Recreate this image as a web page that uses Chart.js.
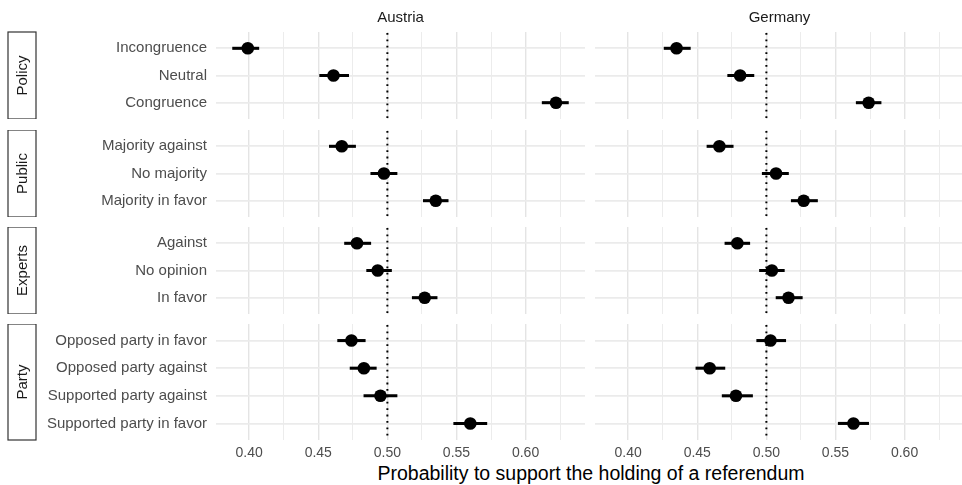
<!DOCTYPE html>
<html>
<head>
<meta charset="utf-8">
<script src="https://cdn.jsdelivr.net/npm/chart.js@4.4.1/dist/chart.umd.min.js"></script>
<style>
  html, body { margin: 0; padding: 0; background: #fff; overflow: hidden; }
  #wrap { position: relative; width: 962px; height: 485px; overflow: hidden; }
  #wrap canvas { position: absolute; }
  #xtitle {
    position: absolute; left: 341px; width: 500px; top: 462px;
    text-align: center; white-space: nowrap;
    font: 19.5px "Liberation Sans", Arial, sans-serif; color: #000;
  }
</style>
</head>
<body>
<div id="wrap">
  <div id="xtitle">Probability to support the holding of a referendum</div>
</div>
<script>
const countries = ["Austria", "Germany"];
const groups = ["Policy", "Public", "Experts", "Party"];
const policyLevels = ["Incongruence", "Neutral", "Congruence"];
const publicLevels = ["Majority against", "No majority", "Majority in favor"];
const expertsLevels = ["Against", "No opinion", "In favor"];
const partyLevels = ["Opposed party in favor", "Opposed party against", "Supported party against", "Supported party in favor"];
const groupLevels = [policyLevels, publicLevels, expertsLevels, partyLevels];

// estimates and 95% bounds, in the order of the levels above
const austriaEst  = [0.399, 0.461, 0.622, 0.467, 0.4975, 0.535, 0.478, 0.493, 0.527, 0.474, 0.483, 0.495, 0.560];
const austriaLow  = [0.388, 0.451, 0.612, 0.458, 0.488, 0.526, 0.469, 0.485, 0.518, 0.464, 0.473, 0.483, 0.548];
const austriaHigh = [0.407, 0.472, 0.631, 0.477, 0.507, 0.544, 0.488, 0.503, 0.536, 0.484, 0.492, 0.507, 0.572];

const germanyEst  = [0.435, 0.481, 0.574, 0.466, 0.507, 0.527, 0.479, 0.504, 0.516, 0.503, 0.459, 0.478, 0.563];
const germanyLow  = [0.426, 0.472, 0.565, 0.457, 0.497, 0.518, 0.470, 0.495, 0.507, 0.493, 0.449, 0.468, 0.552];
const germanyHigh = [0.445, 0.491, 0.583, 0.476, 0.516, 0.537, 0.488, 0.513, 0.526, 0.514, 0.470, 0.490, 0.574];

const xMajorTicks = [0.40, 0.45, 0.50, 0.55, 0.60];
const xMinorTicks = [0.425, 0.475, 0.525, 0.575, 0.625];
const xLimits = [0.376, 0.643];
const refValue = 0.5;

const estimates = [austriaEst, germanyEst];
const lows = [austriaLow, germanyLow];
const highs = [austriaHigh, germanyHigh];

// panel layout (px)
const panelLeft = [216, 595];
const panelW = 369;
const panelTop = [32, 130, 227, 324];
const panelH = [87, 87, 87, 116];

const FONT = "'Liberation Sans', Arial, sans-serif";

// dotted reference line, strip boxes and column titles
const facetPlugin = {
  id: "facet",
  beforeDatasetsDraw(chart) {
    const { ctx, chartArea } = chart;
    const x = chart.scales.x.getPixelForValue(refValue);
    ctx.save();
    ctx.strokeStyle = "#000";
    ctx.lineWidth = 2;
    ctx.setLineDash([1.8, 4.6]);
    ctx.beginPath();
    ctx.moveTo(x, chartArea.top + 1);
    ctx.lineTo(x, chartArea.bottom);
    ctx.stroke();
    ctx.restore();
  },
  afterDraw(chart, args, opts) {
    const { ctx, chartArea } = chart;
    ctx.save();
    if (opts.strip) {
      ctx.strokeStyle = "#333";
      ctx.lineWidth = 1.2;
      ctx.fillStyle = "#fff";
      ctx.fillRect(8, chartArea.top, 28, chartArea.bottom - chartArea.top);
      ctx.strokeRect(8, chartArea.top, 28, chartArea.bottom - chartArea.top);
      ctx.translate(22, (chartArea.top + chartArea.bottom) / 2);
      ctx.rotate(-Math.PI / 2);
      ctx.fillStyle = "#1a1a1a";
      ctx.font = "15px " + FONT;
      ctx.textAlign = "center";
      ctx.textBaseline = "middle";
      ctx.fillText(opts.strip, 0, 1);
      ctx.setTransform(1, 0, 0, 1, 0, 0);
    }
    if (opts.title) {
      ctx.fillStyle = "#1a1a1a";
      ctx.font = "15px " + FONT;
      ctx.textAlign = "center";
      ctx.textBaseline = "middle";
      ctx.fillText(opts.title, (chartArea.left + chartArea.right) / 2, 18);
    }
    ctx.restore();
  }
};

function makePanel(col, row) {
  const levels = groupLevels[row];
  const first = groupLevels.slice(0, row).reduce((s, g) => s + g.length, 0);
  const est = estimates[col].slice(first, first + levels.length);
  const low = lows[col].slice(first, first + levels.length);
  const high = highs[col].slice(first, first + levels.length);

  const isLeft = col === 0, isTop = row === 0, isBottom = row === groups.length - 1;
  const padTop = isTop ? 32 : 0;
  const axisH = isBottom ? 26 : 0;
  const axisW = isLeft ? panelLeft[0] : 0;

  const canvas = document.createElement("canvas");
  canvas.width = axisW + panelW;
  canvas.height = padTop + panelH[row] + axisH;
  canvas.style.left = (isLeft ? 0 : panelLeft[1]) + "px";
  canvas.style.top = (panelTop[row] - padTop) + "px";
  document.getElementById("wrap").appendChild(canvas);

  new Chart(canvas, {
    type: "scatter",
    data: {
      datasets: [
        {
          type: "bar",
          indexAxis: "y",
          data: levels.map((l, i) => ({ x: [low[i], high[i]], y: i })),
          backgroundColor: "#000",
          barThickness: 2.4,
          order: 2
        },
        {
          type: "scatter",
          data: levels.map((l, i) => ({ x: est[i], y: i })),
          backgroundColor: "#000",
          borderWidth: 0,
          pointRadius: 6.3,
          order: 1
        }
      ]
    },
    options: {
      responsive: false,
      animation: false,
      devicePixelRatio: 1,
      layout: { padding: { top: padTop, left: 0, right: 0, bottom: 0 }, autoPadding: false },
      plugins: {
        legend: { display: false },
        tooltip: { enabled: false },
        facet: { strip: isLeft ? groups[row] : null, title: isTop ? countries[col] : null }
      },
      scales: {
        x: {
          type: "linear",
          min: xLimits[0],
          max: xLimits[1],
          beginAtZero: false,
          offset: false,
          border: { display: false },
          grid: {
            drawTicks: false,
            color: c => xMajorTicks.includes(c.tick.value) ? "#e4e4e4" : "#ececec",
            lineWidth: c => xMajorTicks.includes(c.tick.value) ? 1.4 : 1
          },
          afterBuildTicks: s => {
            s.ticks = xMajorTicks.concat(xMinorTicks).sort((a, b) => a - b).map(v => ({ value: v }));
          },
          afterFit: s => {
            s.height = axisH;
            s.paddingLeft = 0;
            s.paddingRight = 0;
          },
          ticks: {
            display: isBottom,
            autoSkip: false,
            maxRotation: 0,
            padding: 5,
            color: "#4d4d4d",
            font: { family: FONT, size: 14 },
            callback: v => xMajorTicks.includes(v) ? v.toFixed(2) : ""
          }
        },
        y: {
          type: "linear",
          reverse: true,
          min: -0.6,
          max: levels.length - 0.4,
          offset: false,
          border: { display: false },
          grid: { drawTicks: false, offset: false, color: "#ebebeb", lineWidth: 1.8 },
          afterBuildTicks: s => { s.ticks = levels.map((l, i) => ({ value: i })); },
          afterFit: s => {
            s.width = axisW;
            s.paddingTop = 0;
            s.paddingBottom = 0;
          },
          ticks: {
            display: isLeft,
            autoSkip: false,
            padding: 9,
            color: "#4d4d4d",
            font: { family: FONT, size: 15 },
            callback: v => levels[v]
          }
        }
      }
    },
    plugins: [facetPlugin]
  });
}

for (let col = 0; col < countries.length; col++) {
  for (let row = 0; row < groups.length; row++) makePanel(col, row);
}
</script>
</body>
</html>
